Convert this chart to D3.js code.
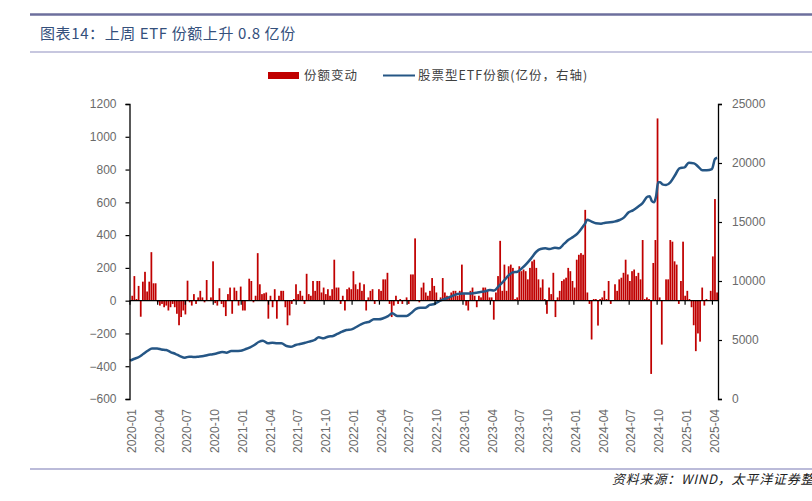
<!DOCTYPE html>
<html><head><meta charset="utf-8">
<script src="https://cdn.jsdelivr.net/npm/d3@7"></script>
<style>
body{margin:0;background:#fff;}
svg{display:block;}
</style>
</head><body>
<svg id="c" width="812" height="501"></svg>
<script>
// ---------- data ----------
const titleText = "图表14：上周 ETF 份额上升 0.8 亿份";
const sourceText = "资料来源：WIND，太平洋证券整理";
const legendLabels = ["份额变动", "股票型ETF份额(亿份，右轴)"];

// weekly bars (份额变动, 亿份), first week ending 2020-01-03
const barStart = "2020-01-03";
const barValues = [
 -5,30,150,10,90,-98,116,176,56,116,296,106,106,-10,-30,-20,-40,-30,-60,-40,
 -20,-40,-80,-150,-100,-60,-84,122,-10,-30,40,-20,20,60,20,-10,126,0,20,240,
 -15,-30,76,-20,-40,-94,40,80,-80,80,60,-30,86,-60,-60,0,134,120,-10,30,
 290,100,40,45,50,-110,30,-40,70,-110,30,60,60,-40,-150,-90,-20,10,100,40,
 60,30,-20,164,40,30,120,60,120,120,50,80,40,70,30,70,250,80,80,-20,
 30,-60,70,80,70,180,100,70,110,60,100,-60,20,60,70,-20,0,70,60,130,
 130,170,-20,-100,-30,30,-20,10,-20,5,20,-20,160,160,380,0,-10,80,110,50,
 30,60,138,90,50,-10,20,138,50,30,20,50,60,60,30,60,220,40,-30,-60,
 60,80,30,-40,30,20,80,80,60,20,20,-116,50,150,365,60,220,60,210,220,
 200,10,20,210,180,190,180,130,200,240,250,200,130,80,130,10,-80,80,40,170,
 -100,20,60,120,130,140,200,180,120,80,250,280,290,280,554,50,-20,-237,10,10,
 -152,10,20,60,10,120,-20,0,100,60,130,140,170,250,160,120,180,190,150,170,
 130,370,10,20,10,-447,230,370,1112,20,-268,0,130,130,370,360,240,220,-20,120,
 360,30,60,10,-40,-150,-308,-200,-250,80,-30,10,0,60,270,620,50
];

// 股票型ETF份额 (亿份, right axis)
const lineDates = [
 "2020-01-03","2020-01-15","2020-02-01","2020-02-15","2020-03-01","2020-03-15","2020-04-01","2020-04-15",
 "2020-05-01","2020-05-15","2020-06-01","2020-06-15","2020-07-01","2020-07-15","2020-08-01","2020-08-15",
 "2020-09-01","2020-09-15","2020-10-01","2020-10-15","2020-11-01","2020-11-15","2020-12-01","2020-12-15",
 "2021-01-01","2021-01-15","2021-02-01","2021-02-15","2021-03-01","2021-03-15","2021-04-01","2021-04-15",
 "2021-05-01","2021-05-15","2021-06-01","2021-06-15","2021-07-01","2021-07-15","2021-08-01","2021-08-15",
 "2021-09-01","2021-09-15","2021-10-01","2021-10-15","2021-11-01","2021-11-15","2021-12-01","2021-12-15",
 "2022-01-01","2022-01-15","2022-02-01","2022-02-15","2022-03-01","2022-03-15","2022-04-01","2022-04-15",
 "2022-05-01","2022-05-15","2022-06-01","2022-06-15","2022-07-01","2022-07-15","2022-08-01","2022-08-15",
 "2022-09-01","2022-09-15","2022-10-01","2022-10-15","2022-11-01","2022-11-15","2022-12-01","2022-12-15",
 "2023-01-01","2023-01-15","2023-02-01","2023-02-15","2023-03-01","2023-03-15","2023-04-01","2023-04-15",
 "2023-05-01","2023-05-15","2023-06-01","2023-06-15","2023-07-01","2023-07-15","2023-08-01","2023-08-15",
 "2023-09-01","2023-09-15","2023-10-01","2023-10-15","2023-11-01","2023-11-15","2023-12-01","2023-12-15",
 "2024-01-01","2024-01-15","2024-02-01","2024-02-09","2024-02-15","2024-03-01","2024-03-15","2024-04-01",
 "2024-04-15","2024-05-01","2024-05-15","2024-06-01","2024-06-15","2024-07-01","2024-07-15","2024-08-01",
 "2024-08-15","2024-09-01","2024-09-08","2024-09-15","2024-09-22","2024-09-29","2024-10-06","2024-10-13",
 "2024-10-20","2024-11-01","2024-11-15","2024-12-01","2024-12-15","2025-01-01","2025-01-15","2025-02-01",
 "2025-02-15","2025-03-01","2025-03-15","2025-04-01","2025-04-11","2025-04-18"
];
const lineValues = [
 3250,3390,3560,3810,4090,4290,4290,4200,
 4150,3980,3810,3640,3500,3590,3560,3590,
 3640,3730,3790,3870,3980,3930,4070,4070,
 4090,4210,4380,4580,4830,4940,4720,4770,
 4720,4720,4490,4430,4580,4660,4770,4860,
 5000,5230,5140,5280,5340,5510,5710,5850,
 5900,6080,6330,6470,6550,6750,6750,6840,
 7030,7260,7030,7030,7030,7260,7630,7740,
 7740,7970,8050,8280,8450,8590,8760,8900,
 8950,8950,8950,9010,9070,9120,9240,9190,
 9580,9940,10450,10730,10790,11070,11500,11920,
 12480,12710,12770,12710,12820,12770,13140,13470,
 13750,14040,14600,14890,15200,15030,14890,14860,
 14940,14970,15030,15170,15370,15820,15990,16300,
 16580,17150,17180,16780,16670,17150,18360,18360,
 18190,18140,18360,18980,19550,19630,20030,19970,
 19690,19380,19380,19490,20340,20450
];

const leftTicks = [-600,-400,-200,0,200,400,600,800,1000,1200];
const rightTicks = [0,5000,10000,15000,20000,25000];
const xTickDates = ["2020-01","2020-04","2020-07","2020-10","2021-01","2021-04","2021-07","2021-10",
 "2022-01","2022-04","2022-07","2022-10","2023-01","2023-04","2023-07","2023-10",
 "2024-01","2024-04","2024-07","2024-10","2025-01","2025-04"];

// ---------- drawing ----------
const svg = d3.select("#c");
const parse = d3.timeParse("%Y-%m-%d");
const parseM = d3.timeParse("%Y-%m");
const barDates = barValues.map((v,i)=> d3.timeWeek.offset(parse(barStart), i));

const x = d3.scaleTime().domain([new Date(2020,0,1), new Date(2025,3,21)]).range([129.5, 718]);
const yL = d3.scaleLinear().domain([-600,1200]).range([399,104]);
const yR = d3.scaleLinear().domain([0,25000]).range([399,104]);

const lineColor = "#255685";
const barColor = "#c00000";
const axisFont = "'Liberation Sans', Arial, sans-serif";
const cjkFont = "'Noto Sans CJK SC', sans-serif";

// header / footer rules
svg.append("line").attr("x1",30).attr("x2",812).attr("y1",14.5).attr("y2",14.5)
  .attr("stroke","#6d6f9d").attr("stroke-width",2.3);
svg.append("line").attr("x1",30).attr("x2",812).attr("y1",52).attr("y2",52)
  .attr("stroke","#b4b5d4").attr("stroke-width",1.5);
svg.append("line").attr("x1",30).attr("x2",812).attr("y1",469).attr("y2",469)
  .attr("stroke","#a4a5cc").attr("stroke-width",1.3);

svg.append("text").attr("x",40).attr("y",39).text(titleText)
  .attr("font-family",cjkFont).attr("font-size",15).attr("fill","#34507c")
  .attr("letter-spacing",0.6);

svg.append("text").attr("x",612).attr("y",484).text(sourceText)
  .attr("font-family",cjkFont).attr("font-size",13).attr("font-style","italic")
  .attr("fill","#222").attr("letter-spacing",0.8);

// bars
const bw = 1.75;
svg.append("g").selectAll("rect").data(barValues).join("rect")
  .attr("x",(d,i)=> x(barDates[i]) - bw/2)
  .attr("width", bw)
  .attr("y", d=> Math.min(yL(d), yL(0)))
  .attr("height", d=> Math.abs(yL(d)-yL(0)))
  .attr("fill", barColor);

// line
const lineData = lineDates.map((d,i)=>({d:parse(d), v:lineValues[i]}));
svg.append("path").datum(lineData)
  .attr("d", d3.line().x(p=>x(p.d)).y(p=>yR(p.v)).curve(d3.curveMonotoneX))
  .attr("fill","none").attr("stroke",lineColor).attr("stroke-width",2.5)
  .attr("stroke-linejoin","round");

// left axis
const gL = svg.append("g").attr("transform","translate(129.5,0)")
  .call(d3.axisLeft(yL).tickValues(leftTicks).tickSize(4).tickPadding(9).tickFormat(d3.format("d")));
// right axis
const gR = svg.append("g").attr("transform","translate(718,0)")
  .call(d3.axisRight(yR).tickValues(rightTicks).tickSize(4).tickPadding(10).tickFormat(d3.format("d")));
[gL,gR].forEach(g=>{
  g.select(".domain").attr("stroke","#000").attr("stroke-width",1.3);
  g.selectAll(".tick line").attr("stroke","#000").attr("stroke-width",1.2);
  g.selectAll("text").attr("font-family",axisFont).attr("font-size",12).attr("fill","#6a6a6a");
});

// x axis at zero line
const xTicks = xTickDates.map(s=>parseM(s));
const gX = svg.append("g").attr("transform",`translate(0,${yL(0)})`)
  .call(d3.axisBottom(x).tickValues(xTicks).tickSize(4).tickFormat(""));
gX.select(".domain").attr("stroke","#000").attr("stroke-width",1.3).attr("d",`M129.5,0H718`);
gX.selectAll(".tick line").attr("stroke","#000").attr("stroke-width",1.2);

// x labels (rotated)
svg.append("g").selectAll("text").data(xTicks).join("text")
  .attr("transform", d=>`translate(${x(d)+2.5},409) rotate(-90)`)
  .attr("text-anchor","end").attr("dy","0.35em")
  .attr("font-family",axisFont).attr("font-size",12).attr("fill","#6a6a6a")
  .text(d=>d3.timeFormat("%Y-%m")(d));

// legend
const lg = svg.append("g");
lg.append("rect").attr("x",268).attr("y",72).attr("width",31).attr("height",7).attr("fill",barColor);
lg.append("text").attr("x",304).attr("y",80).text(legendLabels[0])
  .attr("font-family",cjkFont).attr("font-size",12.5).attr("fill","#404040").attr("letter-spacing",1);
lg.append("line").attr("x1",383).attr("x2",415).attr("y1",75.5).attr("y2",75.5)
  .attr("stroke",lineColor).attr("stroke-width",2);
lg.append("text").attr("x",418).attr("y",80).text(legendLabels[1])
  .attr("font-family",cjkFont).attr("font-size",12.5).attr("fill","#404040").attr("letter-spacing",1);
</script>
</body></html>
